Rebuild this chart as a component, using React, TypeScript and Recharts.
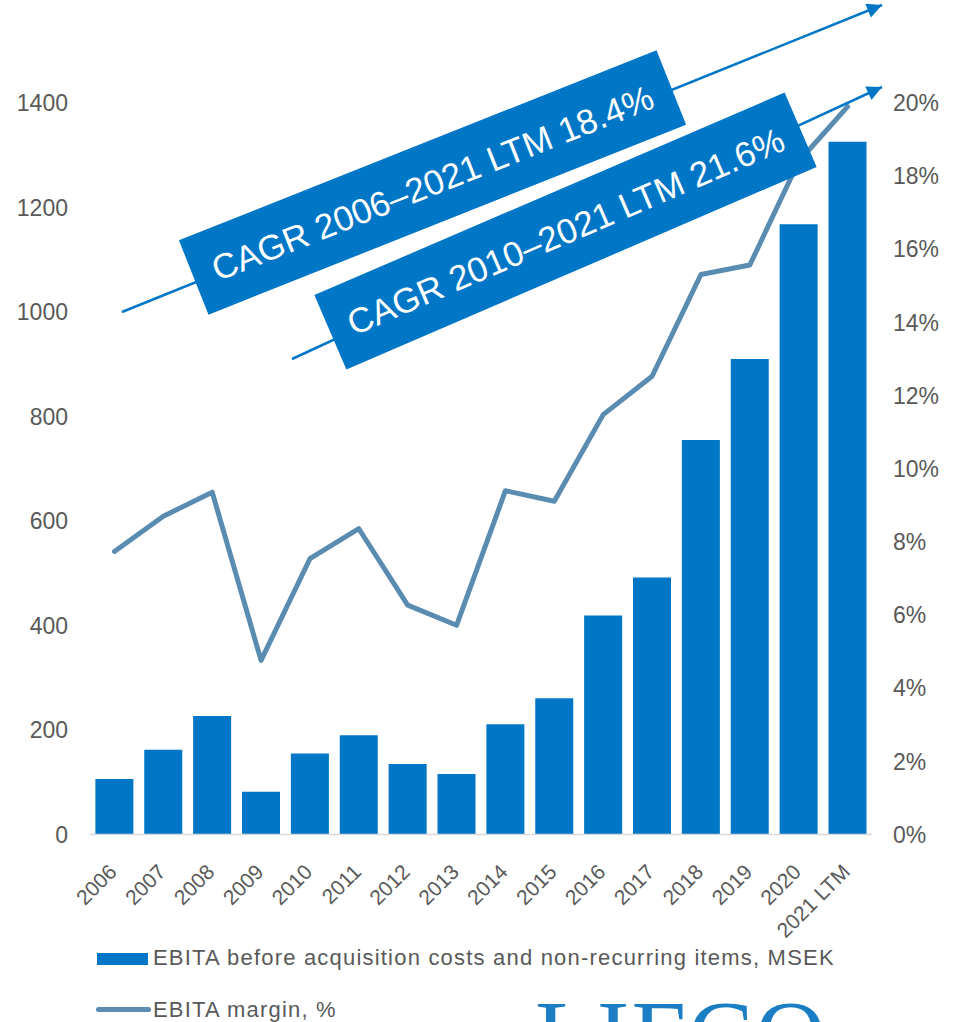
import { ComposedChart, Bar, Line, XAxis, YAxis } from "recharts";

const years = [
  "2006", "2007", "2008", "2009", "2010", "2011", "2012", "2013",
  "2014", "2015", "2016", "2017", "2018", "2019", "2020", "2021 LTM",
];
const ebita = [106, 162, 227, 82, 155, 190, 135, 116, 211, 261, 419, 492, 755, 910, 1168, 1326];
const margin = [7.74, 8.7, 9.36, 4.76, 7.54, 8.36, 6.27, 5.72, 9.4, 9.11, 11.48, 12.53, 15.31, 15.57, 18.4, 19.9];
const leftTicks = [0, 200, 400, 600, 800, 1000, 1200, 1400];
const rightTicks = [0, 2, 4, 6, 8, 10, 12, 14, 16, 18, 20];

const data = years.map((year, i) => ({ year, ebita: ebita[i], margin: margin[i] }));

const BLUE = "#0076C6";
const LINE = "#5A8BB0";
const GREY = "#595959";
const FONT = "'Liberation Sans', Arial, sans-serif";

// eslint-disable-next-line @typescript-eslint/no-explicit-any
const YearTick = ({ x, y, payload }: any) => (
  <text
    x={0}
    y={0}
    dy="0.72em"
    textAnchor="end"
    fill={GREY}
    fontSize={21}
    fontFamily={FONT}
    transform={`translate(${x - 7},${y + 20}) rotate(-45)`}
  >
    {payload.value}
  </text>
);

function CagrBox({ cx, cy, w, h, angle, label }: { cx: number; cy: number; w: number; h: number; angle: number; label: string }) {
  return (
    <g transform={`translate(${cx},${cy}) rotate(${angle})`}>
      <rect x={-w / 2} y={-h / 2} width={w} height={h} fill={BLUE} />
      <text x={0} y={0} dy="0.36em" textAnchor="middle" fill="#fff" fontSize={35} fontFamily={FONT}>
        {label}
      </text>
    </g>
  );
}

export default function App() {
  return (
    <div style={{
      position: "absolute", left: 0, top: 0, width: 959, height: 1022,
      overflow: "hidden", background: "#fff", fontFamily: FONT,
    }}>
      <ComposedChart
        width={959}
        height={960}
        data={data}
        margin={{ top: 103, right: 0, left: 0, bottom: 0 }}
        barCategoryGap="11%"
      >
        <XAxis
          dataKey="year"
          height={125.5}
          interval={0}
          tickLine={false}
          axisLine={{ stroke: "#D9D9D9", strokeWidth: 1.5 }}
          tick={<YearTick />}
        />
        <YAxis
          yAxisId="left"
          width={90}
          domain={[0, 1400]}
          ticks={leftTicks}
          axisLine={false}
          tickLine={false}
          tickSize={0}
          tickMargin={22}
          tick={{ fill: GREY, fontSize: 23, fontFamily: FONT }}
        />
        <YAxis
          yAxisId="right"
          orientation="right"
          width={87}
          domain={[0, 20]}
          ticks={rightTicks}
          axisLine={false}
          tickLine={false}
          tickSize={0}
          tickMargin={21}
          tickFormatter={(v: number) => `${v}%`}
          tick={{ fill: GREY, fontSize: 23, fontFamily: FONT, textAnchor: "start" }}
        />
        <Bar yAxisId="left" dataKey="ebita" fill={BLUE} isAnimationActive={false} />
        <Line
          yAxisId="right"
          dataKey="margin"
          type="linear"
          stroke={LINE}
          strokeWidth={5}
          strokeLinecap="round"
          strokeLinejoin="round"
          dot={false}
          activeDot={false}
          isAnimationActive={false}
        />
      </ComposedChart>

      {/* CAGR annotations + logo */}
      <svg width={959} height={1022} style={{ position: "absolute", left: 0, top: 0, pointerEvents: "none" }}>
        <defs>
          <marker id="head" viewBox="0 0 10 10" refX={10} refY={5} markerWidth={7} markerHeight={6} markerUnits="strokeWidth" orient="auto">
            <path d="M0,0 L10,5 L0,10 z" fill={BLUE} />
          </marker>
        </defs>
        <line x1={122} y1={312} x2={882} y2={5} stroke={BLUE} strokeWidth={2.5} markerEnd="url(#head)" />
        <line x1={292} y1={359} x2={882} y2={87} stroke={BLUE} strokeWidth={2.5} markerEnd="url(#head)" />
        <CagrBox cx={432.5} cy={182.5} w={514} h={80} angle={-21.7} label="CAGR 2006–2021 LTM 18.4%" />
        <CagrBox cx={565.5} cy={231} w={512} h={81} angle={-23.3} label="CAGR 2010–2021 LTM 21.6%" />
        <text x={535} y={1068} fill="#1B7DC4" fontSize={98} fontFamily="'Liberation Serif', 'DejaVu Serif', serif" letterSpacing={2}>
          LIFCO
        </text>
      </svg>

      {/* Legend */}
      <div style={{ position: "absolute", left: 97, top: 953, width: 51, height: 12, background: BLUE }} />
      <div style={{ position: "absolute", left: 153, top: 945, fontSize: 22, letterSpacing: 1.2, color: GREY, lineHeight: "26px", whiteSpace: "nowrap" }}>
        EBITA before acquisition costs and non-recurring items, MSEK
      </div>
      <div style={{ position: "absolute", left: 96, top: 1007, width: 55, height: 5, borderRadius: 3, background: LINE }} />
      <div style={{ position: "absolute", left: 153, top: 997, fontSize: 22, letterSpacing: 1.2, color: GREY, lineHeight: "26px", whiteSpace: "nowrap" }}>
        EBITA margin, %
      </div>
    </div>
  );
}
